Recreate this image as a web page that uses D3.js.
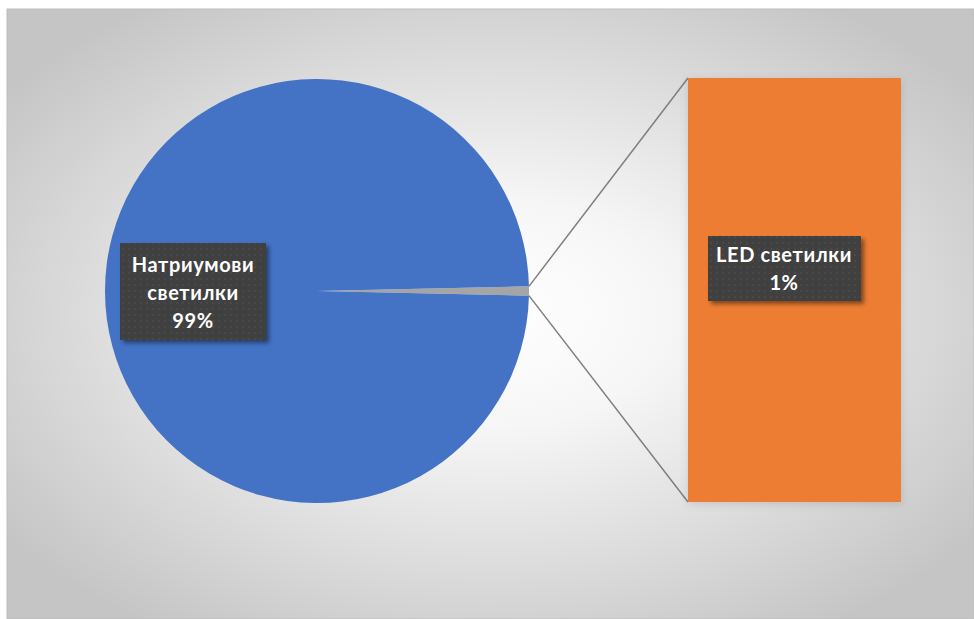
<!DOCTYPE html>
<html>
<head>
<meta charset="UTF-8">
<script src="https://cdn.jsdelivr.net/npm/d3@7"></script>
<style>
body { margin: 0; background: #fff; }
text { font-family: Lato, "Open Sans", sans-serif; font-weight: bold; fill: #fff; letter-spacing: 0.6px; }
</style>
</head>
<body>
<svg id="chart" width="974" height="619"></svg>
<script>
// slice data (percent)
var categories = ["LED светилки", "Натриумови светилки"];
var values = [0.7, 99.3];
var labelLines = [["LED светилки", "1%"], ["Натриумови", "светилки", "99%"]];
var colors = ["#A5A5A5", "#4472C4"];
var barColor = "#ED7D31";

var svg = d3.select("#chart");
var defs = svg.append("defs");

var bg = defs.append("radialGradient").attr("id", "bg")
    .attr("cx", "50%").attr("cy", "50%").attr("r", "62%");
bg.append("stop").attr("offset", "0%").attr("stop-color", "#ffffff");
bg.append("stop").attr("offset", "30%").attr("stop-color", "#f6f6f6");
bg.append("stop").attr("offset", "100%").attr("stop-color", "#c5c5c5");

var pat = defs.append("pattern").attr("id", "dots")
    .attr("width", 6).attr("height", 6).attr("patternUnits", "userSpaceOnUse");
pat.append("rect").attr("width", 6).attr("height", 6).attr("fill", "#3f3f3f");
pat.append("circle").attr("cx", 3).attr("cy", 3).attr("r", 1.1).attr("fill", "#4b4b4b");

var sh = defs.append("filter").attr("id", "shadow")
    .attr("x", "-20%").attr("y", "-20%").attr("width", "150%").attr("height", "150%");
sh.append("feDropShadow").attr("dx", 3).attr("dy", 3).attr("stdDeviation", 2)
    .attr("flood-color", "#000").attr("flood-opacity", 0.45);

var bsh = defs.append("filter").attr("id", "barshadow")
    .attr("x", "-10%").attr("y", "-10%").attr("width", "130%").attr("height", "130%");
bsh.append("feDropShadow").attr("dx", 0).attr("dy", 2).attr("stdDeviation", 4)
    .attr("flood-color", "#000").attr("flood-opacity", 0.12);

// chart area
svg.append("rect").attr("x", 7).attr("y", 9).attr("width", 967).attr("height", 610)
    .attr("fill", "url(#bg)").attr("stroke", "#bdbdbd").attr("stroke-width", 1);

var cx = 317, cy = 291, r = 212;
var total = d3.sum(values);
var ledAngle = values[0] / total * 2 * Math.PI;
var pie = d3.pie().sort(null)
    .startAngle(Math.PI / 2 - ledAngle / 2)
    .endAngle(Math.PI / 2 - ledAngle / 2 + 2 * Math.PI);
var arcs = pie(values);
var arc = d3.arc().innerRadius(0).outerRadius(r);

var g = svg.append("g").attr("transform", "translate(" + cx + "," + cy + ")");
g.selectAll("path").data(arcs).enter().append("path")
    .attr("d", arc).attr("fill", function(d, i) { return colors[i]; });

// bar (secondary plot)
var barX = 688, barW = 213;
var y = d3.scaleLinear().domain([0, values[0]]).range([502, 78]);

// connector lines
var a0 = arcs[0].startAngle, a1 = arcs[0].endAngle;
var conn = [
  [cx + r * Math.sin(a0), cy - r * Math.cos(a0), barX, y(values[0])],
  [cx + r * Math.sin(a1), cy - r * Math.cos(a1), barX, y(0)]
];
svg.selectAll("line.conn").data(conn).enter().append("line").attr("class", "conn")
    .attr("x1", function(d) { return d[0]; }).attr("y1", function(d) { return d[1]; })
    .attr("x2", function(d) { return d[2]; }).attr("y2", function(d) { return d[3]; })
    .attr("stroke", "#7f7f7f").attr("stroke-width", 1.5);

svg.append("rect").attr("x", barX).attr("y", y(values[0]))
    .attr("width", barW).attr("height", y(0) - y(values[0]))
    .attr("fill", barColor).attr("filter", "url(#barshadow)");

// data labels
var labels = [
  {x: 708, y: 236, w: 153, h: 65, lines: labelLines[0], cx: 784, ty: 262, dy: 28},
  {x: 120, y: 243, w: 146, h: 97, lines: labelLines[1], cx: 193, ty: 272, dy: 28}
];
labels.forEach(function(l) {
  svg.append("rect").attr("x", l.x).attr("y", l.y).attr("width", l.w).attr("height", l.h)
      .attr("fill", "url(#dots)").attr("filter", "url(#shadow)");
  var t = svg.append("text").attr("text-anchor", "middle").attr("font-size", 20);
  l.lines.forEach(function(s, i) {
    t.append("tspan").attr("x", l.cx).attr("y", l.ty + i * l.dy).text(s);
  });
});
</script>
</body>
</html>
